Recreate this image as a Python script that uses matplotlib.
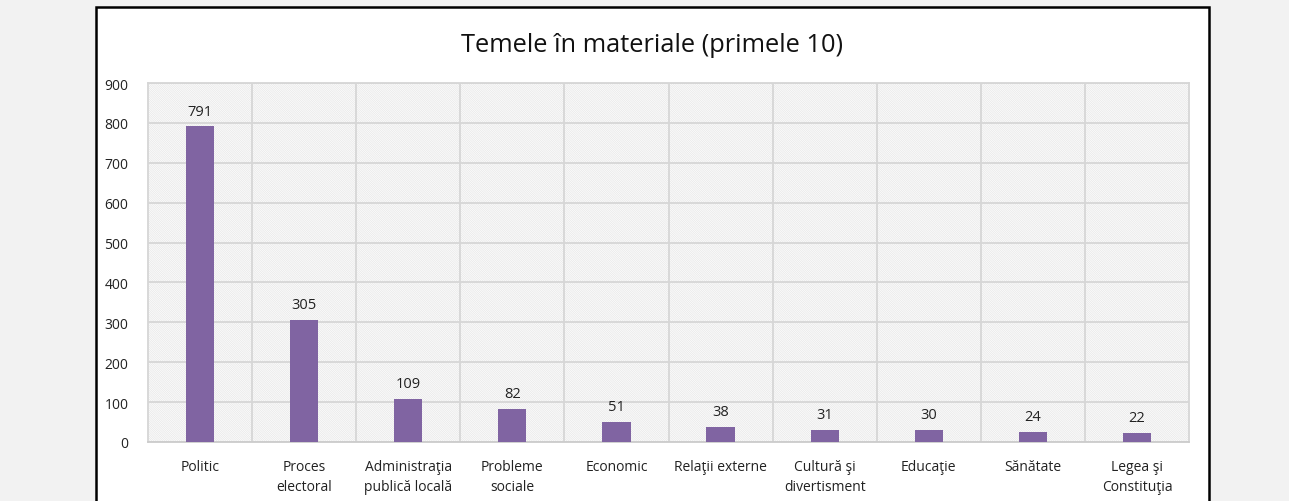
import matplotlib
matplotlib.use('Agg')
import matplotlib.pyplot as plt
from matplotlib.patches import Rectangle

# data
categories = ['Politic', 'Proces\nelectoral', 'Administraţia\npublică locală', 'Probleme\nsociale',
              'Economic', 'Relaţii externe', 'Cultură şi\ndivertisment', 'Educaţie',
              'Sănătate', 'Legea şi\nConstituţia']
counts = [791, 305, 109, 82, 51, 38, 31, 30, 24, 22]
yticks = [0, 100, 200, 300, 400, 500, 600, 700, 800, 900]

plt.rcParams['font.family'] = ['Open Sans', 'DejaVu Sans']
plt.rcParams['hatch.linewidth'] = 0.4
plt.rcParams['hatch.color'] = '#e2e2e2'

W, H = 1289, 502
fig = plt.figure(figsize=(W / 100, H / 100), dpi=100)
fig.patch.set_facecolor('#f2f2f2')

# white chart panel with black frame
fig.patches.append(Rectangle((96 / W, -0.01), (1209 - 96) / W, (502 - 8) / H + 0.01,
                             transform=fig.transFigure, facecolor='white',
                             edgecolor='black', linewidth=1.8, zorder=-10))

ax = fig.add_axes([148 / W, (H - 443) / H, (1189 - 148) / W, (443 - 84) / H])
ax.set_facecolor('white')
ax.patch.set_hatch('\\' * 18)
ax.patch.set_edgecolor('#e2e2e2')
ax.patch.set_linewidth(0)

x = list(range(len(categories)))
bars = ax.bar(x, counts, width=0.27, color='#8064a2', zorder=3)
for xi, v in zip(x, counts):
    ax.text(xi, v + 20, str(v), ha='center', va='bottom', fontsize=10.5, color='#222222', zorder=4)

ax.set_xlim(-0.5, len(categories) - 0.5)
ax.set_ylim(0, 900)
ax.set_yticks(yticks)
ax.set_xticks(x)
ax.set_xticklabels(categories, fontsize=10, color='#222222', linespacing=1.45)
ax.tick_params(axis='y', labelsize=10, labelcolor='#222222', length=0, pad=14)
ax.tick_params(axis='x', length=0, pad=12)

# gridlines: horizontal at ticks, vertical between categories
ax.grid(axis='y', color='#d6d6d6', linewidth=1.3, zorder=1)
for b in range(1, len(categories)):
    ax.axvline(b - 0.5, color='#d6d6d6', linewidth=1.3, zorder=1)
for s in ['top', 'right', 'left']:
    ax.spines[s].set_color('#d6d6d6')
    ax.spines[s].set_linewidth(1.3)
ax.spines['bottom'].set_color('#cccccc')
ax.spines['bottom'].set_linewidth(1.3)

fig.text(652 / W, 1 - 46 / H, 'Temele în materiale (primele 10)', ha='center', va='center',
         fontsize=18.3, color='#111111')

plt.savefig('out.png', dpi=100, facecolor=fig.get_facecolor())
